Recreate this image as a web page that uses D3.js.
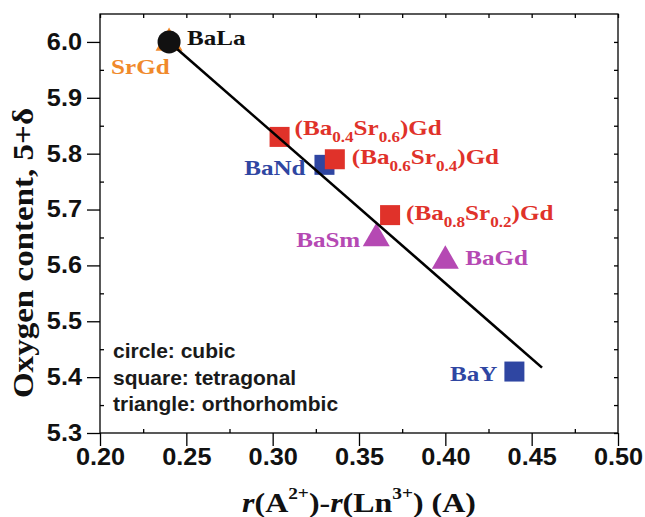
<!DOCTYPE html>
<html>
<head>
<meta charset="utf-8">
<script src="https://cdn.jsdelivr.net/npm/d3@7"></script>
<style>
  html, body { margin: 0; padding: 0; background: #fff; }
  svg { display: block; }
  .axis path, .axis line { stroke: #000; stroke-width: 1.3; }
  .serif { font-family: "Liberation Serif", "Times New Roman", Times, serif; font-weight: 700; }
  .sans { font-family: "Liberation Sans", Arial, Helvetica, sans-serif; font-weight: 700; }
</style>
</head>
<body>
<svg id="chart" width="645" height="517"></svg>
<script>
// Oxygen content vs. ionic-radius mismatch of the A-site and Ln-site cations
const names = ["BaLa", "SrGd", "(Ba0.4Sr0.6)Gd", "BaNd", "(Ba0.6Sr0.4)Gd",
               "(Ba0.8Sr0.2)Gd", "BaSm", "BaGd", "BaY"];
const radiusDiff = [0.240, 0.240, 0.304, 0.330, 0.336, 0.368, 0.360, 0.400, 0.440];
const oxygen     = [6.000, 6.005, 5.830, 5.780, 5.790, 5.690, 5.655, 5.615, 5.410];
const structure  = ["cubic", "orthorhombic", "tetragonal", "tetragonal", "tetragonal",
                    "tetragonal", "orthorhombic", "orthorhombic", "tetragonal"];
const family     = ["La", "Sr", "BaSr", "Ba", "BaSr", "BaSr", "BaLn", "BaLn", "Ba"];

// Linear trend line end points
const fitX = [0.240, 0.456];
const fitY = [6.000, 5.417];

const xTicks = [0.20, 0.25, 0.30, 0.35, 0.40, 0.45, 0.50];
const yTicks = [5.3, 5.4, 5.5, 5.6, 5.7, 5.8, 5.9, 6.0];
const notes = ["circle: cubic", "square: tetragonal", "triangle: orthorhombic"];

// ---- drawing ----
const colors = { La: "#111111", Sr: "#f0892b", BaSr: "#e0322a", Ba: "#2f46a2", BaLn: "#b549b3" };
const SX = 1.14;               // horizontal stretch applied to serif text
const SXT = 1.1;               // stretch for tick labels

const svg = d3.select("#chart");
const x = d3.scaleLinear().domain([0.2, 0.5]).range([100, 618]);
const y = d3.scaleLinear().domain([5.3, 6.05]).range([433, 14]);

const minorX = d3.range(0, 13).map(i => 0.2 + i * 0.025);
const minorY = d3.range(0, 15).map(i => 5.3 + i * 0.05);

// frame
svg.append("rect").attr("x", 100).attr("y", 14).attr("width", 518).attr("height", 419)
  .attr("fill", "none").attr("stroke", "#000").attr("stroke-width", 1.3);

// bottom axis: major ticks outward with labels, minor ticks inward
const bottom = svg.append("g").attr("class", "axis").attr("transform", "translate(0,433)")
  .call(d3.axisBottom(x).tickValues(xTicks).tickSize(13).tickPadding(3).tickFormat(d3.format(".2f")));
bottom.call(g => g.select(".domain").remove());
bottom.selectAll("text")
  .attr("class", "sans").attr("font-family", null).attr("font-size", 23).attr("fill", "#111")
  .attr("transform", `scale(${SXT},1)`);
svg.append("g").attr("class", "axis").attr("transform", "translate(0,433)")
  .call(d3.axisBottom(x).tickValues(minorX.filter((d, i) => i % 2 === 1)).tickSize(-4).tickFormat(""))
  .call(g => g.select(".domain").remove());

// top axis: inward ticks
svg.append("g").attr("class", "axis").attr("transform", "translate(0,14)")
  .call(d3.axisTop(x).tickValues(minorX).tickSize(-4).tickFormat(""))
  .call(g => g.select(".domain").remove());

// left axis
const left = svg.append("g").attr("class", "axis").attr("transform", "translate(100,0)")
  .call(d3.axisLeft(y).tickValues(yTicks).tickSize(13).tickPadding(5).tickFormat(d3.format(".1f")));
left.call(g => g.select(".domain").remove());
left.selectAll("text")
  .attr("class", "sans").attr("font-family", null).attr("font-size", 23).attr("fill", "#111")
  .attr("x", -18 / SXT)
  .attr("transform", `scale(${SXT},1)`);
svg.append("g").attr("class", "axis").attr("transform", "translate(100,0)")
  .call(d3.axisLeft(y).tickValues(minorY.filter((d, i) => i % 2 === 1)).tickSize(-4).tickFormat(""))
  .call(g => g.select(".domain").remove());

// right axis: inward ticks
svg.append("g").attr("class", "axis").attr("transform", "translate(618,0)")
  .call(d3.axisRight(y).tickValues(minorY).tickSize(-4).tickFormat(""))
  .call(g => g.select(".domain").remove());

// axis titles
const xt = svg.append("text").attr("class", "serif")
  .attr("transform", `translate(359,512) scale(${SX},1)`)
  .attr("text-anchor", "middle")
  .attr("font-size", 28).attr("fill", "#111");
[["r", "i"], ["(A", ""], ["2+", "sup"], [")-", "down"], ["r", "i"], ["(Ln", ""], ["3+", "sup"], [") (A)", "down"]]
  .forEach(([t, k]) => {
    const ts = xt.append("tspan").text(t);
    if (k === "i") ts.attr("font-style", "italic");
    if (k === "sup") ts.attr("font-size", 17).attr("dy", -13);
    if (k === "down") ts.attr("dy", 13);
  });

svg.append("text").attr("class", "serif")
  .attr("transform", `translate(33,253) rotate(-90) scale(${SX},1)`)
  .attr("text-anchor", "middle")
  .attr("font-size", 29).attr("fill", "#111")
  .text("Oxygen content, 5+δ");

// markers
const pts = names.map((n, i) => ({ name: n, x: radiusDiff[i], y: oxygen[i], s: structure[i], c: colors[family[i]] }));
const tri = (w) => { const h = w * 0.866; return `M0,${-h / 2}L${w / 2},${h / 2}L${-w / 2},${h / 2}Z`; };

const order = ["SrGd", "(Ba0.4Sr0.6)Gd", "BaNd", "(Ba0.6Sr0.4)Gd", "(Ba0.8Sr0.2)Gd", "BaSm", "BaGd", "BaY"];
order.forEach(n => {
  const p = pts.find(d => d.name === n);
  const g = svg.append("g").attr("transform", `translate(${x(p.x)},${y(p.y)})`);
  if (p.s === "tetragonal") {
    g.append("rect").attr("x", -10).attr("y", -10).attr("width", 20).attr("height", 20).attr("fill", p.c);
  } else if (p.s === "orthorhombic") {
    g.append("path").attr("d", tri(27)).attr("fill", p.c);
  }
});

// trend line
svg.append("line")
  .attr("x1", x(fitX[0])).attr("y1", y(fitY[0]))
  .attr("x2", x(fitX[1])).attr("y2", y(fitY[1]))
  .attr("stroke", "#000").attr("stroke-width", 2.6);

// cubic point on top
pts.filter(p => p.s === "cubic").forEach(p => {
  svg.append("circle").attr("cx", x(p.x)).attr("cy", y(p.y)).attr("r", 11.5).attr("fill", p.c);
});

// point labels: offsets from the marker centre and anchor
const labelPlace = {
  "BaLa": [18, 3, "start"],
  "SrGd": [-58, 35, "start"],
  "(Ba0.4Sr0.6)Gd": [15, -2, "start"],
  "BaNd": [-19, 10, "end"],
  "(Ba0.6Sr0.4)Gd": [17, 5, "start"],
  "(Ba0.8Sr0.2)Gd": [16, 5, "start"],
  "BaSm": [-16, 12, "end"],
  "BaGd": [20, 8, "start"],
  "BaY": [-17, 9, "end"]
};
pts.forEach(p => {
  const [dx, dy, anchor] = labelPlace[p.name];
  const t = svg.append("text").attr("class", "serif")
    .attr("transform", `translate(${x(p.x) + dx},${y(p.y) + dy}) scale(${SX},1)`)
    .attr("text-anchor", anchor)
    .attr("font-size", 22).attr("fill", p.c);
  const m = p.name.match(/^\(Ba([\d.]+)Sr([\d.]+)\)Gd$/);
  if (m) {
    t.append("tspan").text("(Ba");
    t.append("tspan").attr("font-size", 15).attr("dy", 7).text(m[1]);
    t.append("tspan").attr("dy", -7).text("Sr");
    t.append("tspan").attr("font-size", 15).attr("dy", 7).text(m[2]);
    t.append("tspan").attr("dy", -7).text(")Gd");
  } else {
    t.text(p.name);
  }
});

// structure legend
notes.forEach((n, i) => {
  svg.append("text").attr("class", "sans")
    .attr("transform", `translate(113,${358 + i * 26.5}) scale(1.05,1)`)
    .attr("font-size", 20).attr("fill", "#1a1a1a")
    .text(n);
});
</script>
</body>
</html>
